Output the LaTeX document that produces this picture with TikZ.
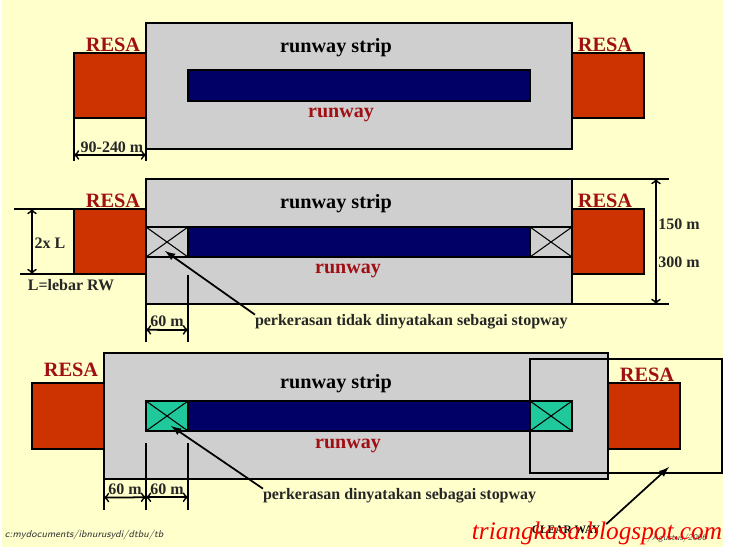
\documentclass[tikz,border=0pt]{standalone}
\usepackage{fontspec}
\setmainfont{Liberation Serif}
\usetikzlibrary{arrows}
\definecolor{paper}{HTML}{FFFFCC}
\definecolor{stripgray}{HTML}{CFCFCF}
\definecolor{resared}{HTML}{CC3300}
\definecolor{rwblue}{HTML}{000066}
\definecolor{labelred}{HTML}{A00F14}
\definecolor{swgreen}{HTML}{1FC99B}
\begin{document}
\begin{tikzpicture}[x=0.02cm,y=-0.02cm,inner sep=0pt,outer sep=0pt,line width=1.15pt,
stripbox/.style={draw,fill=stripgray},
resabox/.style={draw,fill=resared},
rwbox/.style={draw,fill=rwblue},
crossline/.style={line width=.6pt},
dimtxt/.style={font=\bfseries\fontsize{9.1}{11}\selectfont,text=black!85},
resatxt/.style={font=\bfseries\fontsize{11.6}{13}\selectfont,text=labelred},
rwtxt/.style={font=\bfseries\fontsize{11.4}{13}\selectfont,text=labelred},
striptxt/.style={font=\bfseries\fontsize{11.5}{13}\selectfont},
dimline/.style={<->,>=to,line width=1pt},
pointer/.style={-latex,line width=1pt}]
\useasboundingbox (0,0) rectangle (732,547);
\fill[white] (0,0) rectangle (732,547);
\fill[paper] (2,0) rectangle (723,547);
% top sketch
\draw[stripbox] (146,23) rectangle (572,149);
\draw[resabox] (74,53) rectangle (146,118);
\draw[resabox] (572,53) rectangle (644,118);
\draw[rwbox] (188,70) rectangle (530,101);
\node[resatxt] (resa1l) at (113,45) {RESA};
\node[resatxt] (resa1r) at (605,45) {RESA};
\node[striptxt] (strip1) at (336,48) {runway strip};
\node[rwtxt] (rw1) at (341,115) {runway};
\draw (74,118) -- (74,161) coordinate[pos=.86] (d1a);
\draw (146,149) -- (146,161) coordinate[pos=.5] (d1b);
\draw[dimline] (d1a) -- (d1b);
\node[dimtxt] (d1txt) at (112,147) {90-240 m};
% middle sketch
\draw[stripbox] (146,179) rectangle (572,304);
\draw[resabox] (74,209) rectangle (146,274);
\draw[resabox] (572,209) rectangle (644,274);
\draw[rwbox] (188,227) rectangle (530,257);
\draw (146,227) rectangle (188,257);
\draw (530,227) rectangle (572,257);
\draw[crossline] (146,227) -- (188,257) (146,257) -- (188,227);
\draw[crossline] (530,227) -- (572,257) (530,257) -- (572,227);
\node[resatxt] (resa2l) at (113,201) {RESA};
\node[resatxt] (resa2r) at (605,201) {RESA};
\node[striptxt] (strip2) at (336,204) {runway strip};
\node[rwtxt] (rw2) at (348,271) {runway};
\coordinate (w1) at (32,209);
\coordinate (w2) at (32,274);
\draw (14,209) -- (74,209);
\draw (20,274) -- (74,274);
\draw[dimline] (w1) -- (w2);
\node[dimtxt] (wtxt) at (50,243) {2x L};
\node[dimtxt] (ltxt) at (71,285) {L=lebar RW};
\coordinate (h1) at (656,179);
\coordinate (h2) at (656,304);
\draw (572,179) -- (669,179);
\draw (572,304) -- (669,304);
\draw[dimline] (h1) -- (h2);
\node[dimtxt] (h1txt) at (679,224) {150 m};
\node[dimtxt] (h2txt) at (679,262) {300 m};
\draw (146,304) -- (146,342) coordinate[pos=.68] (d2a);
\draw (188,275) -- (188,342) coordinate[pos=.82] (d2b);
\draw[dimline] (d2a) -- (d2b);
\node[dimtxt] (d2txt) at (167,321) {60 m};
\node[dimtxt,anchor=west] (note2) at (255,322) {perkerasan tidak dinyatakan sebagai stopway};
\draw[pointer] (note2.north west) -- (165,251);
% bottom sketch
\draw[stripbox] (104,353) rectangle (608,479);
\draw[resabox] (32,383) rectangle (104,449);
\draw[resabox] (608,383) rectangle (680,449);
\draw[rwbox] (188,401) rectangle (530,431);
\draw[fill=swgreen] (146,401) rectangle (188,431);
\draw[fill=swgreen] (530,401) rectangle (572,431);
\draw[crossline] (146,401) -- (188,431) (146,431) -- (188,401);
\draw[crossline] (530,401) -- (572,431) (530,431) -- (572,401);
\draw (530,359) rectangle (722,473);
\node[resatxt] (resa3l) at (71,370) {RESA};
\node[resatxt] (resa3r) at (647,375) {RESA};
\node[striptxt] (strip3) at (336,384) {runway strip};
\node[rwtxt] (rw3) at (348,446) {runway};
\draw (104,479) -- (104,510) coordinate[pos=.6] (d3a);
\draw (146,443) -- (146,510) coordinate[pos=.81] (d3b);
\draw (188,443) -- (188,510) coordinate[pos=.81] (d3c);
\draw[dimline] (d3a) -- (d3b);
\draw[dimline] (d3b) -- (d3c);
\node[dimtxt] (d3txt) at (125,489) {60 m};
\node[dimtxt] (d4txt) at (167,489) {60 m};
\node[dimtxt,anchor=west] (note3) at (263,496) {perkerasan dinyatakan sebagai stopway};
\draw[pointer] (note3.north west) -- (171,426);
\node[font=\bfseries\fontsize{6.5}{8}\selectfont] (cway) at (566,530) {CLEAR WAY};
\draw[pointer] (cway.north east) ++(6,-2) -- (669,467);
% small print and watermark
\node[anchor=west,font=\sffamily\itshape\fontsize{5.65}{7}\selectfont,text=black!80] (path) at (5,535) {c:mydocuments/ibnurusydi/dtbu/tb};
\node[font=\sffamily\itshape\fontsize{5}{6}\selectfont,text=black!70] (date) at (677,538) {/Agustus/2006};
\node[font=\itshape\fontsize{14.4}{16}\selectfont,text=red!95!black] (blog) at (597,533) {triangkasa.blogspot.com};
\end{tikzpicture}
\end{document}
